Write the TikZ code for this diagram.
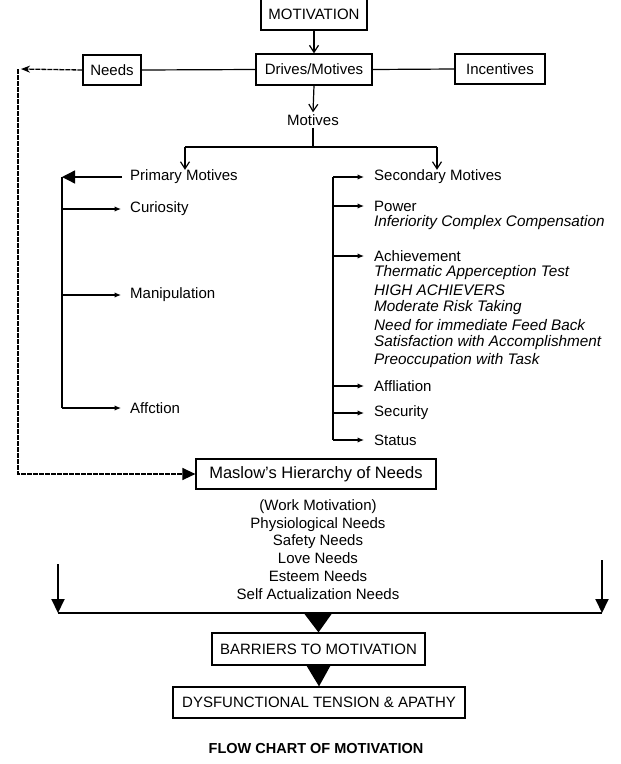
\documentclass[tikz,border=0pt]{standalone}
\usepackage{fontspec}
\setmainfont{Liberation Sans}
\usetikzlibrary{arrows.meta,calc}
\newcommand\fsz{\fontsize{15}{18}\selectfont}
\newcommand\fit{\fontsize{15.3}{18}\selectfont\itshape}
\begin{document}
\begin{tikzpicture}[x=1pt,y=-1pt,
  box/.style={draw, line width=1.2pt, inner sep=0pt, font=\fsz},
  lbl/.style={anchor=west, inner ysep=0pt, font=\fsz},
  itl/.style={anchor=west, inner sep=0pt, font=\fit},
  conn/.style={line width=1.2pt},
  openarr/.style={line width=1.2pt, -{Straight Barb[length=7pt,width=9pt]}},
  brk/.style={line width=1.3pt},
  smallarr/.style={line width=1.2pt, -{Latex[length=6.5pt,width=5.5pt]}},
  bigarr/.style={line width=1.3pt, -{Triangle[length=13pt,width=13pt]}},
  dsh/.style={line width=1.3pt, dash pattern=on 5pt off 1pt},
  thickarr/.style={line width=1.9pt, -{Triangle[length=14pt,width=13pt]}}]
\useasboundingbox (0,0) rectangle (621,764);

% top
\node[box, minimum width=106pt, minimum height=31pt] (mot) at (314,14.5) {MOTIVATION};
\node[box, minimum width=116pt, minimum height=31pt] (drv) at (314,69.5) {Drives/Motives};
\node[box, minimum width=58pt, minimum height=30pt] (nds) at (112,70) {Needs};
\node[box, minimum width=90pt, minimum height=30pt] (inc) at (500,69) {Incentives};
\node[inner sep=2pt, font=\fsz] (mtv) at (313,120) {Motives};

\draw[openarr] (mot.south) -- (drv.north);
\draw[conn] (nds.east) -- (drv.west);
\draw[conn] (drv.east) -- (inc.west);
\draw[openarr] (drv.south) -- (mtv.north);

\coordinate (split) at (313,147);
\coordinate (pl) at (185,147);
\coordinate (sr) at (437,147);
\draw[conn] (mtv.south) -- (split);
\draw[conn] (pl) -- (sr);

% primary motives
\node[lbl, inner xsep=8pt] (prim) at (122,177) {Primary Motives};
\node[lbl, inner xsep=9pt] (cur) at (121,209) {Curiosity};
\node[lbl, inner xsep=9pt] (man) at (121,295) {Manipulation};
\node[lbl, inner xsep=9pt] (aff) at (121,408) {Affction};
\draw[openarr] (pl) -- (pl |- prim.north);

\coordinate (lt) at (62,177);
\coordinate (lb) at (62,408);
\draw[bigarr] (prim.west) -- (lt);
\draw[brk] (lt) -- (lb);
\draw[smallarr] (lt |- cur.west) -- (cur.west);
\draw[smallarr] (lt |- man.west) -- (man.west);
\draw[smallarr] (lb) -- (aff.west);

% secondary motives
\node[lbl, inner xsep=10pt] (sec) at (364,177) {Secondary Motives};
\node[lbl, inner xsep=10pt] (pow) at (364,206) {Power};
\node[itl] (inf) at (374,223) {Inferiority Complex Compensation};
\node[lbl, inner xsep=10pt] (ach) at (364,256) {Achievement};
\node[itl] (a1) at (374,273) {Thermatic Apperception Test};
\node[itl] (a2) at (374,290) {HIGH ACHIEVERS};
\node[itl] (a3) at (374,307.5) {Moderate Risk Taking};
\node[itl] (a4) at (374,325) {Need for immediate Feed Back};
\node[itl] (a5) at (374,343) {Satisfaction with Accomplishment};
\node[itl] (a6) at (374,361) {Preoccupation with Task};
\node[lbl, inner xsep=10pt] (afl) at (364,386) {Affliation};
\node[lbl, inner xsep=10pt] (scr) at (364,413) {Security};
\node[lbl, inner xsep=10pt] (sts) at (364,440) {Status};
\draw[openarr] (sr) -- (sr |- sec.north);

\coordinate (rt) at (333,177);
\coordinate (rb) at (333,440);
\draw[brk] (rt) -- (rb);
\draw[smallarr] (rt) -- (sec.west);
\draw[smallarr] (rt |- pow.west) -- (pow.west);
\draw[smallarr] (rt |- ach.west) -- (ach.west);
\draw[smallarr] (rt |- afl.west) -- (afl.west);
\draw[smallarr] (rt |- scr.west) -- (scr.west);
\draw[smallarr] (rb) -- (sts.west);

% Maslow
\node[box, minimum width=240pt, minimum height=30pt, font=\fontsize{16.5}{18}\selectfont] (mas) at (316,474) {Maslow's Hierarchy of Needs};
\node[align=center, inner sep=0pt, font=\fontsize{15}{17.8}\selectfont] (lst) at (318,549.5)
  {(Work Motivation)\\Physiological Needs\\Safety Needs\\Love Needs\\Esteem Needs\\Self Actualization Needs};

% dashed feedback
\coordinate (tc) at (21,69);
\coordinate (tc2) at (18,69);
\draw[dsh, -{Stealth[length=9pt,width=7pt]}] (nds.west) -- (tc);
\draw[dsh, -{Triangle[length=13pt,width=12pt]}] (tc2) |- (mas.west);

% bottom
\coordinate (bl) at (58,613);
\coordinate (br) at (602,613);
\coordinate (blt) at (58,564);
\coordinate (brt) at (602,560);
\draw[line width=2.4pt] (bl) -- (br);
\draw[thickarr] (blt) -- (bl);
\draw[thickarr] (brt) -- (br);

\node[box, minimum width=213pt, minimum height=32pt] (bar) at (318.5,649) {BARRIERS TO MOTIVATION};
\node[box, minimum width=292pt, minimum height=31pt] (dys) at (319,702.5) {DYSFUNCTIONAL TENSION \& APATHY};
\coordinate (t1) at (318,612);
\fill ($(t1)+(-15,0)$) -- ($(t1)+(15,0)$) -- (bar.north) -- cycle;
\fill ($(bar.south)+(-12,0)$) -- ($(bar.south)+(12,0)$) -- (dys.north) -- cycle;

\node[font=\fontsize{14.5}{17}\selectfont\bfseries] (ttl) at (316,748) {FLOW CHART OF MOTIVATION};
\end{tikzpicture}
\end{document}
